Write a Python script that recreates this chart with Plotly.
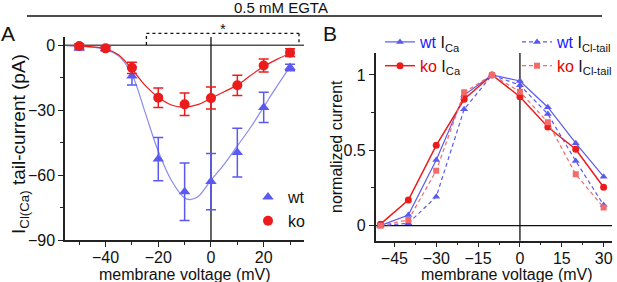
import plotly.graph_objects as go

# ---------------- Panel A data ----------------
voltage_a = [-50, -40, -30, -20, -10, 0, 10, 20, 30]
wt_a = [-1.2, -1.5, -14.2, -52.6, -67.7, -63.0, -49.6, -28.7, -10.3]
wt_a_err = [1.0, 1.0, 4.2, 10.0, 13.3, 13.0, 11.3, 7.0, 1.5]
ko_a = [-0.3, -1.4, -10.4, -24.2, -27.3, -24.4, -18.5, -9.3, -3.4]
ko_a_err = [1.0, 1.0, 2.6, 4.5, 5.2, 5.1, 4.7, 3.0, 1.8]

# fitted curves
fit_v_wt = [-55, -50, -45, -40, -35, -30, -25, -20, -15, -10, -8, -5, 0, 5, 10, 15, 20, 25, 30]
fit_wt = [-0.2, -0.4, -0.9, -2.0, -5.0, -13.5, -31, -49, -62.5, -70.6, -71.3, -70, -62.3, -55, -46.5, -38, -28.5, -19, -10]
fit_v_ko = [-55, -50, -45, -40, -35, -30, -25, -20, -15, -11, -5, 0, 5, 10, 15, 20, 25, 31]
fit_ko = [-0.1, -0.3, -0.7, -1.6, -4.5, -11, -18.5, -24, -27.6, -28.6, -27.4, -24.5, -21.5, -18.4, -14, -9.8, -6.5, -3.2]

# significance bracket span
sig_x = [-24.5, 33.4]

# ---------------- Panel B data ----------------
voltage_b = [-50, -40, -30, -20, -10, 0, 10, 20, 30]
wt_ica = [0.0, 0.071, 0.436, 0.867, 1.0, 0.96, 0.786, 0.547, 0.325]
ko_ica = [0.01, 0.17, 0.533, 0.839, 1.0, 0.856, 0.655, 0.507, 0.255]
wt_cl = [0.0, 0.016, 0.192, 0.772, 1.0, 0.932, 0.741, 0.429, 0.137]
ko_cl = [0.0, 0.038, 0.365, 0.885, 1.0, 0.889, 0.686, 0.341, 0.12]

xticks_a = [-40, -20, 0, 20]
yticks_a = [0, -30, -60, -90]
xticks_b = [-45, -30, -15, 0, 15, 30]
yticks_b = [0, 0.5, 1]
yticklabels_b = ["0", "0.5", "1"]

BLUE = "#5a5af2"
BLUE_LINE = "#8a8af0"
RED = "#ec1c1c"
RED_LIGHT = "#f36a6a"
FONT = "Liberation Sans, Arial, sans-serif"

W, H = 617, 282


def px(x):
    return x / W


def py(y):
    return (H - y) / H


fig = go.Figure()

# Panel A fits
fig.add_trace(go.Scatter(x=fit_v_wt, y=fit_wt, mode="lines", line=dict(color=BLUE_LINE, width=1.2, shape="spline", smoothing=1),
                         showlegend=False, hoverinfo="skip", xaxis="x", yaxis="y"))
fig.add_trace(go.Scatter(x=fit_v_ko, y=fit_ko, mode="lines", line=dict(color=RED, width=1.2, shape="spline", smoothing=1),
                         showlegend=False, hoverinfo="skip", xaxis="x", yaxis="y"))
# Panel A data
fig.add_trace(go.Scatter(x=voltage_a, y=wt_a, mode="markers", name="wt",
                         marker=dict(symbol="triangle-up", size=10, color=BLUE),
                         error_y=dict(type="data", array=wt_a_err, color=BLUE, thickness=1.5, width=5),
                         xaxis="x", yaxis="y", legend="legend"))
fig.add_trace(go.Scatter(x=voltage_a, y=ko_a, mode="markers", name="ko",
                         marker=dict(symbol="circle", size=10, color=RED),
                         error_y=dict(type="data", array=ko_a_err, color=RED, thickness=1.5, width=5),
                         xaxis="x", yaxis="y", legend="legend"))

# Panel B
fig.add_trace(go.Scatter(x=voltage_b, y=wt_ica, mode="lines+markers",
                         name='<span style="color:#1a1aff">wt</span> I<sub>Ca</sub>',
                         line=dict(color=BLUE, width=1.2), marker=dict(symbol="triangle-up", size=7, color=BLUE),
                         xaxis="x2", yaxis="y2", legend="legend2"))
fig.add_trace(go.Scatter(x=voltage_b, y=ko_ica, mode="lines+markers",
                         name='<span style="color:#e60000">ko</span> I<sub>Ca</sub>',
                         line=dict(color=RED, width=1.5), marker=dict(symbol="circle", size=7, color=RED),
                         xaxis="x2", yaxis="y2", legend="legend2"))
fig.add_trace(go.Scatter(x=voltage_b, y=wt_cl, mode="lines+markers",
                         name='<span style="color:#1a1aff">wt</span> I<sub>Cl-tail</sub>',
                         line=dict(color=BLUE, width=1.2, dash="4px,3px"), marker=dict(symbol="triangle-up", size=7, color=BLUE),
                         xaxis="x2", yaxis="y2", legend="legend3"))
fig.add_trace(go.Scatter(x=voltage_b, y=ko_cl, mode="lines+markers",
                         name='<span style="color:#e60000">ko</span> I<sub>Cl-tail</sub>',
                         line=dict(color=RED_LIGHT, width=1.2, dash="4px,3px"), marker=dict(symbol="square", size=6, color=RED_LIGHT),
                         xaxis="x2", yaxis="y2", legend="legend3"))

axis_common = dict(showline=True, linecolor="#222", linewidth=1.5, ticks="outside", ticklen=5, tickwidth=1.3,
                   tickcolor="#222", showgrid=False, zeroline=False, automargin=False,
                   tickfont=dict(size=16, color="#111", family=FONT))

leg_font = dict(size=16, family=FONT, color="#111")
fig.update_layout(
    template="none",
    width=W, height=H, margin=dict(l=0, r=0, t=0, b=0, autoexpand=False),
    paper_bgcolor="white", plot_bgcolor="white",
    font=dict(family=FONT, color="#111"),
    xaxis=dict(domain=[px(65), px(304)], range=[-55.4, 35.3], anchor="y", tickmode="array", tickvals=xticks_a,
               ticklabelstandoff=-3,
               minor=dict(ticks="outside", ticklen=3, tickmode="linear", tick0=-50, dtick=10, tickcolor="#222"),
               **axis_common),
    yaxis=dict(domain=[py(240), py(37)], range=[-90, 3.84], anchor="x", tickmode="array", tickvals=yticks_a,
               minor=dict(ticks="outside", ticklen=3, tickmode="linear", tick0=-15, dtick=30, tickcolor="#222"),
               **axis_common),
    xaxis2=dict(domain=[px(375.7), px(612)], range=[-51.7, 33], anchor="y2", tickmode="array", tickvals=xticks_b,
                ticklabelstandoff=-3,
                minor=dict(ticks="outside", ticklen=3, tickmode="linear", tick0=-52.5, dtick=7.5, tickcolor="#222"),
                **axis_common),
    yaxis2=dict(domain=[py(240.7), py(53)], range=[-0.1, 1.146], anchor="x2", tickmode="array", tickvals=yticks_b,
                ticktext=yticklabels_b,
                minor=dict(ticks="outside", ticklen=3, tickmode="linear", tick0=0.25, dtick=0.5, tickcolor="#222"),
                **axis_common),
    legend=dict(x=px(248), y=py(180), xanchor="left", yanchor="top", bgcolor="rgba(0,0,0,0)",
                font=leg_font, itemwidth=30, tracegroupgap=0),
    legend2=dict(x=px(380), y=py(25), xanchor="left", yanchor="top", bgcolor="rgba(0,0,0,0)",
                 font=leg_font, itemwidth=30, tracegroupgap=0),
    legend3=dict(x=1.0, y=py(25), xanchor="right", yanchor="top", bgcolor="rgba(0,0,0,0)",
                 font=leg_font, itemwidth=30, tracegroupgap=0),
)

shapes = [
    # panel A zero lines
    dict(type="line", xref="x domain", yref="y", x0=0, x1=1, y0=0, y1=0, line=dict(color="#555", width=1.5), layer="below"),
    dict(type="line", xref="x", yref="y domain", x0=0, x1=0, y0=0, y1=1, line=dict(color="#111", width=1.3), layer="below"),
    # panel B zero lines
    dict(type="line", xref="x2 domain", yref="y2", x0=0, x1=1, y0=0, y1=0, line=dict(color="#111", width=1.3), layer="below"),
    dict(type="line", xref="x2", yref="y2 domain", x0=0, x1=0, y0=0, y1=1, line=dict(color="#111", width=1.3), layer="below"),
    # significance bracket
    dict(type="line", xref="x", yref="paper", x0=sig_x[0], x1=sig_x[0], y0=py(45), y1=py(33.3), line=dict(color="#111", width=1.3, dash="dot")),
    dict(type="line", xref="x", yref="paper", x0=sig_x[0], x1=sig_x[1], y0=py(33.3), y1=py(33.3), line=dict(color="#111", width=1.3, dash="dot")),
    dict(type="line", xref="x", yref="paper", x0=sig_x[1], x1=sig_x[1], y0=py(33.3), y1=py(45), line=dict(color="#111", width=1.3, dash="dot")),
    # header line
    dict(type="line", xref="paper", yref="paper", x0=px(27), x1=px(602), y0=py(16), y1=py(16), line=dict(color="#111", width=1.3)),
]
fig.update_layout(shapes=shapes)

annotations = [
    dict(text="0.5 mM EGTA", x=px(281), y=py(7.5), xref="paper", yref="paper", showarrow=False, borderpad=0,
         font=dict(size=15, family=FONT, color="#111"), xanchor="center", yanchor="middle"),
    dict(text="*", x=(sig_x[0] + sig_x[1]) / 2, y=py(28.5), xref="x", yref="paper", showarrow=False,
         font=dict(size=15, family=FONT, color="#111"), xanchor="center", yanchor="middle"),
    dict(text="A", x=px(8), y=py(34), xref="paper", yref="paper", showarrow=False,
         font=dict(size=21, family=FONT, color="#111"), xanchor="center", yanchor="middle"),
    dict(text="B", x=px(330), y=py(34), xref="paper", yref="paper", showarrow=False,
         font=dict(size=21, family=FONT, color="#111"), xanchor="center", yanchor="middle"),
    dict(text="I<sub>Cl(Ca)</sub> tail-current (pA)", x=px(20), y=py(144), xref="paper", yref="paper", showarrow=False,
         textangle=-90, font=dict(size=19, family=FONT, color="#111"), xanchor="center", yanchor="middle"),
    dict(text="membrane voltage (mV)", x=px(184.5), y=py(274.5), xref="paper", yref="paper", showarrow=False,
         font=dict(size=16, family=FONT, color="#111"), xanchor="center", yanchor="middle"),
    dict(text="normalized current", x=px(337), y=py(147), xref="paper", yref="paper", showarrow=False,
         textangle=-90, font=dict(size=16, family=FONT, color="#111"), xanchor="center", yanchor="middle"),
    dict(text="membrane voltage (mV)", x=px(506.7), y=py(274.5), xref="paper", yref="paper", showarrow=False,
         font=dict(size=16, family=FONT, color="#111"), xanchor="center", yanchor="middle"),
]
fig.update_layout(annotations=annotations)

fig.write_html("out.html", config={"displayModeBar": False},
               post_script="document.body.style.margin='0';document.body.style.overflow='hidden';")
